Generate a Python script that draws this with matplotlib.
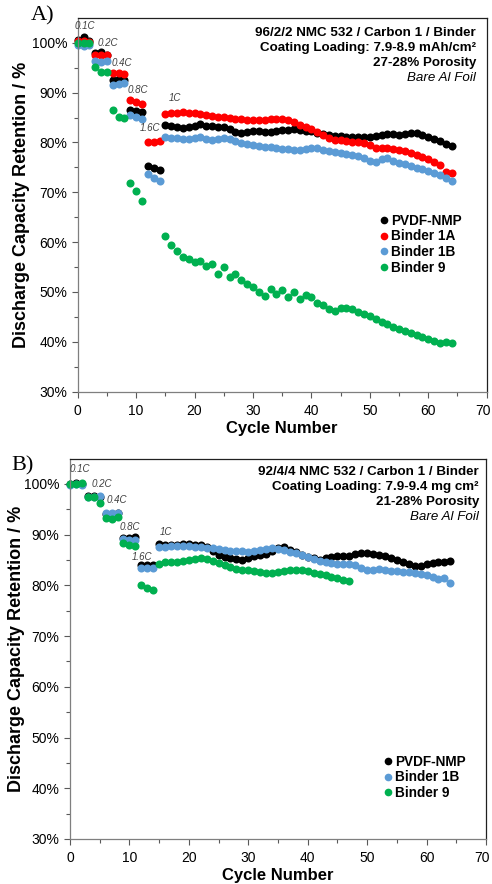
import matplotlib
matplotlib.use("Agg")
import matplotlib.pyplot as plt
import matplotlib.transforms as mtransforms
from matplotlib.ticker import MultipleLocator, FuncFormatter

plt.rcParams['font.family'] = ['Liberation Sans', 'DejaVu Sans']

# ---------------- Panel A data ----------------
A_rate_cycles = [0, 1, 2, 3, 4, 5, 6, 7, 8, 9, 10, 11, 12, 13, 14]
A_long_cycles = list(range(15, 65))

A_pvdf_rate = [100.6, 101.2, 100.3, 98.0, 98.2, 97.6, 92.6, 92.7, 92.6, 86.5, 86.4, 86.2, 75.3, 74.8, 74.5]
A_pvdf_long = [83.4, 83.2, 83.0, 82.8, 83.0, 83.3, 83.7, 83.3, 83.2, 83.1, 83.0, 82.6, 82.0, 81.8, 82.1,
               82.3, 82.2, 82.0, 82.1, 82.2, 82.4, 82.5, 82.6, 82.5, 82.3, 82.2, 81.9, 81.7, 81.5, 81.3,
               81.2, 81.1, 81.1, 81.0, 81.0, 81.1, 81.3, 81.5, 81.7, 81.7, 81.5, 81.6, 81.8, 81.8, 81.5,
               81.0, 80.6, 80.2, 79.7, 79.2]

A_1a_rate = [100.3, 100.4, 100.2, 97.5, 97.6, 97.5, 93.9, 93.9, 93.8, 88.5, 88.2, 87.8, 80.1, 80.1, 80.2]
A_1a_long = [85.8, 85.9, 86.0, 86.1, 86.0, 85.9, 85.8, 85.6, 85.4, 85.2, 85.1, 85.0, 84.8, 84.7, 84.6,
             84.5, 84.5, 84.6, 84.7, 84.8, 84.7, 84.4, 84.0, 83.5, 83.1, 82.6, 82.0, 81.4, 80.9, 80.5,
             80.4, 80.2, 80.1, 80.0, 79.8, 79.5, 78.8, 78.8, 78.9, 78.7, 78.5, 78.3, 77.9, 77.5, 77.0,
             76.6, 76.1, 75.5, 74.1, 73.8]

A_1b_rate = [99.6, 99.3, 99.6, 96.3, 96.2, 96.3, 91.5, 91.8, 91.9, 85.5, 85.2, 84.8, 73.7, 72.8, 72.2]
A_1b_long = [81.0, 80.9, 80.8, 80.7, 80.6, 80.9, 81.1, 80.6, 80.4, 80.6, 80.8, 80.6, 80.2, 79.8, 79.6,
             79.4, 79.2, 79.1, 79.0, 78.8, 78.7, 78.6, 78.5, 78.4, 78.6, 78.8, 78.8, 78.5, 78.3, 78.1,
             77.9, 77.7, 77.5, 77.2, 76.8, 76.3, 76.1, 76.6, 76.8, 76.3, 75.8, 75.6, 75.2, 74.9, 74.6,
             74.3, 73.9, 73.4, 72.9, 72.3]

A_b9_rate_cycles = [0, 1, 2, 3, 4, 5, 6, 7, 8, 9, 10, 11]
A_b9_rate = [100.0, 100.0, 100.0, 95.2, 94.2, 94.2, 86.5, 85.2, 84.9, 71.8, 70.3, 68.2]
A_b9_long = [61.3, 59.4, 58.2, 57.0, 56.6, 56.0, 56.2, 55.3, 55.6, 53.7, 55.1, 53.1, 53.6, 52.5, 51.6,
             51.1, 49.9, 49.2, 50.6, 49.5, 50.3, 48.9, 49.9, 48.6, 49.4, 48.9, 47.7, 47.4, 46.5, 46.2,
             46.7, 46.8, 46.5, 46.0, 45.6, 45.2, 44.6, 44.0, 43.5, 43.0, 42.6, 42.2, 41.8, 41.4, 41.0,
             40.6, 40.2, 39.8, 40.0, 39.8]

# ---------------- Panel B data ----------------
B_rate_cycles = [0, 1, 2, 3, 4, 5, 6, 7, 8, 9, 10, 11, 12, 13, 14]
B_long_cycles = list(range(15, 65))
B_b9_long_cycles = list(range(15, 48))

B_pvdf_rate = [100.0, 100.1, 100.0, 97.6, 97.6, 97.5, 94.0, 94.1, 94.2, 89.3, 89.4, 89.6, 84.0, 84.0, 84.1]
B_pvdf_long = [88.2, 88.0, 87.9, 88.0, 88.2, 88.1, 88.0, 87.9, 87.5, 86.8, 86.0, 85.6, 85.4, 85.2, 85.0,
               85.3, 85.7, 86.0, 86.2, 86.8, 87.4, 87.5, 87.0, 86.5, 86.0, 85.6, 85.3, 85.0, 85.4, 85.6,
               85.7, 85.7, 85.8, 86.1, 86.3, 86.3, 86.2, 86.0, 85.7, 85.3, 85.0, 84.6, 84.2, 83.8, 83.9,
               84.3, 84.4, 84.5, 84.6, 84.8]

B_1b_rate = [99.8, 99.9, 99.8, 97.5, 97.5, 97.6, 94.2, 94.2, 94.3, 89.2, 89.0, 89.0, 83.4, 83.4, 83.4]
B_1b_long = [87.6, 87.6, 87.7, 87.8, 87.8, 87.7, 87.6, 87.5, 87.4, 87.3, 87.1, 86.9, 86.8, 86.7, 86.7,
             86.6, 86.7, 86.9, 87.1, 87.3, 87.2, 86.9, 86.6, 86.3, 85.9, 85.5, 85.1, 84.7, 84.5, 84.4,
             84.3, 84.2, 84.2, 84.1, 83.5, 83.0, 83.1, 83.2, 83.1, 82.9, 82.8, 82.7, 82.6, 82.4, 82.2,
             82.0, 81.6, 81.2, 81.4, 80.4]

B_b9_rate = [100.0, 100.0, 100.1, 97.5, 97.4, 96.2, 93.2, 93.0, 93.5, 88.3, 88.0, 87.8, 80.1, 79.4, 79.1]
B_b9_long = [84.3, 84.5, 84.6, 84.6, 84.8, 85.0, 85.2, 85.3, 85.1, 84.8, 84.4, 84.0, 83.6, 83.3, 83.1,
             83.0, 82.8, 82.6, 82.5, 82.5, 82.6, 82.8, 83.0, 83.1, 83.0, 82.8, 82.5, 82.2, 82.0, 81.7,
             81.4, 81.1, 80.8]

rate_labels = ['0.1C', '0.2C', '0.4C', '0.8C', '1.6C', '1C']
A_label_pos = [(1.3, 103.3), (5.2, 99.9), (7.6, 95.9), (10.3, 90.5), (12.4, 82.9), (16.6, 88.9)]
B_label_pos = [(1.7, 103.0), (5.4, 100.0), (7.9, 96.8), (10.1, 91.5), (12.1, 85.6), (16.2, 90.5)]

A_info = ['96/2/2 NMC 532 / Carbon 1 / Binder', 'Coating Loading: 7.9-8.9 mAh/cm\u00b2',
          '27-28% Porosity', 'Bare Al Foil']
B_info = ['92/4/4 NMC 532 / Carbon 1 / Binder', 'Coating Loading: 7.9-9.4 mg cm\u00b2',
          '21-28% Porosity', 'Bare Al Foil']

C_BLACK = '#000000'
C_RED = '#FF0000'
C_BLUE = '#5B9BD5'
C_GREEN = '#00B050'

W, H = 492, 884
fig = plt.figure(figsize=(W / 100, H / 100), dpi=100)

axA = fig.add_axes([77.7 / W, 1 - 391.7 / H, (486.7 - 77.7) / W, (391.7 - 18.3) / H])
axB = fig.add_axes([70 / W, 1 - 839 / H, (486 - 70) / W, (839 - 459) / H])

MS = 5.8


def series(ax, xr, yr, xl, yl, color, label):
    ax.plot(list(xr) + list(xl), list(yr) + list(yl), 'o', ms=MS, color=color,
            markeredgewidth=0, label=label, clip_on=False)


series(axA, A_rate_cycles, A_pvdf_rate, A_long_cycles, A_pvdf_long, C_BLACK, 'PVDF-NMP')
series(axA, A_rate_cycles, A_1a_rate, A_long_cycles, A_1a_long, C_RED, 'Binder 1A')
series(axA, A_rate_cycles, A_1b_rate, A_long_cycles, A_1b_long, C_BLUE, 'Binder 1B')
series(axA, A_b9_rate_cycles, A_b9_rate, A_long_cycles, A_b9_long, C_GREEN, 'Binder 9')

series(axB, B_rate_cycles, B_pvdf_rate, B_long_cycles, B_pvdf_long, C_BLACK, 'PVDF-NMP')
series(axB, B_rate_cycles, B_1b_rate, B_long_cycles, B_1b_long, C_BLUE, 'Binder 1B')
series(axB, B_rate_cycles, B_b9_rate, B_b9_long_cycles, B_b9_long, C_GREEN, 'Binder 9')

for ax, pos in ((axA, A_label_pos), (axB, B_label_pos)):
    for lab, (x, y) in zip(rate_labels, pos):
        ax.text(x, y, lab, fontsize=7, style='italic', color='#404040', ha='center', va='center')
    ax.set_xlim(0, 70)
    ax.set_ylim(30, 104.9)
    ax.xaxis.set_major_locator(MultipleLocator(10))
    ax.xaxis.set_minor_locator(MultipleLocator(5))
    ax.yaxis.set_major_locator(MultipleLocator(10))
    ax.yaxis.set_minor_locator(MultipleLocator(5))
    ax.yaxis.set_major_formatter(FuncFormatter(lambda v, p: f'{v:.0f}%'))
    ax.tick_params(which='both', direction='out', labelsize=10, color='#595959', width=0.8)
    ax.tick_params(which='major', length=4)
    ax.tick_params(which='minor', length=3)
    ax.tick_params(axis='x', pad=5)
    for s in ax.spines.values():
        s.set_color('#202020')
        s.set_linewidth(0.9)
    ax.spines['left'].set_color('#7f7f7f')
    ax.spines['bottom'].set_color('#7f7f7f')
    ax.set_xlabel('Cycle Number', fontsize=12, fontweight='bold', labelpad=2)
    ax.set_ylabel('Discharge Capacity Retention / %', fontsize=13, fontweight='bold')

axA.yaxis.set_label_coords(30 / W, 1 - (18.3 + 391.7) / 2 / H, transform=fig.transFigure)
axB.yaxis.set_label_coords(25 / W, 1 - (459 + 839) / 2 / H, transform=fig.transFigure)

# info text
for lines, x_px, y0, ys in ((A_info, 476, 33, 15), (B_info, 479, 472, 15)):
    for i, t in enumerate(lines):
        kw = dict(fontsize=9.6, ha='right', va='center')
        if i == 3:
            kw.update(style='italic')
        else:
            kw.update(fontweight='bold')
        fig.text(x_px / W, 1 - (y0 + i * ys) / H, t, **kw)

# legends
legA = axA.legend(loc='upper left', bbox_to_anchor=(373 / W, 1 - 207 / H), bbox_transform=fig.transFigure,
                  frameon=False, prop={'weight': 'bold', 'size': 9.8}, handlelength=0.6,
                  handletextpad=0.25, labelspacing=0.12, borderpad=0, markerscale=0.95)
legB = axB.legend(loc='upper left', bbox_to_anchor=(377 / W, 1 - 748 / H), bbox_transform=fig.transFigure,
                  frameon=False, prop={'weight': 'bold', 'size': 9.8}, handlelength=0.6,
                  handletextpad=0.25, labelspacing=0.12, borderpad=0, markerscale=0.95)

fig.text(31 / W, 1 - 16 / H, 'A)', fontsize=16, family=['Liberation Serif'], va='center', ha='left')
fig.text(11 / W, 1 - 466 / H, 'B)', fontsize=16, family=['Liberation Serif'], va='center', ha='left')

# keep the last x tick label ("70") inside the figure
fig.canvas.draw()
shift = mtransforms.ScaledTranslation(-4 / 100, 0, fig.dpi_scale_trans)
for ax in (axA, axB):
    for lbl in ax.get_xticklabels():
        if lbl.get_text() == '70':
            lbl.set_transform(lbl.get_transform() + shift)

fig.savefig('out.png', dpi=100)
